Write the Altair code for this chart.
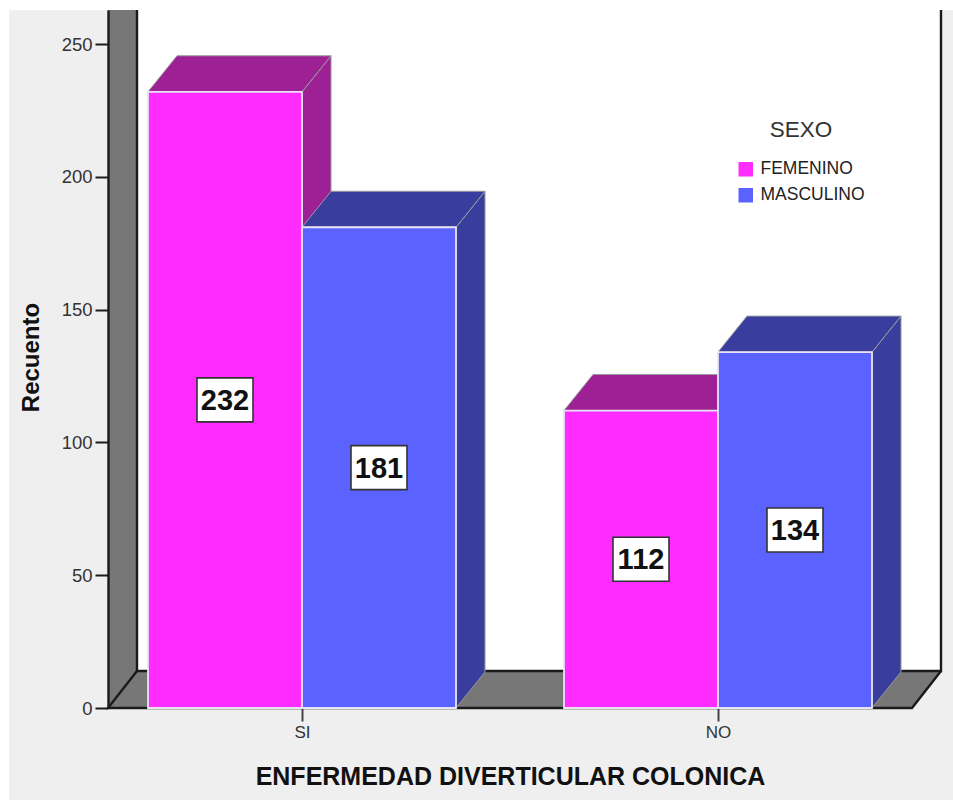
import altair as alt
import pandas as pd

# Counts per diagnosis and sex
categories = ["SI", "NO"]
series = ["FEMENINO", "MASCULINO"]
femenino = [232, 112]
masculino = [181, 134]
y_ticks = [0, 50, 100, 150, 200, 250]

front_colors = ["#ff2bff", "#5a62ff"]
shade_colors = ["#9e2095", "#393e9e"]
WALL = "#777777"
PAGE = "#efefef"
INK = "#1a1a1a"

# Plot geometry, in pixels of the view
W, H = 833, 698
PX_PER_COUNT = 2.656
Y_MAX = H / PX_PER_COUNT
BAR_W = 154
GROUP_CENTERS = [194, 610]
DEPTH_X = 29
DEPTH_Y = 36 / PX_PER_COUNT
WALL_Y = 37 / PX_PER_COUNT

x_scale = alt.Scale(domain=[0, W], nice=False, zero=False)
y_scale = alt.Scale(domain=[0, Y_MAX], nice=False, zero=False)
X = alt.X("x:Q", scale=x_scale)
Y = alt.Y("y:Q", scale=y_scale)
X2 = alt.X2("x2:Q")
Y2 = alt.Y2("y2:Q")


def area(rows, color, **kw):
    df = pd.DataFrame(rows, columns=["x", "y", "y2"])
    return alt.Chart(df).mark_area(color=color, interpolate="linear", **kw).encode(x=X, y=Y, y2=Y2)


def polyline(points):
    df = pd.DataFrame(points, columns=["x", "y"])
    df["i"] = range(len(df))
    return alt.Chart(df).mark_line(color=INK, strokeWidth=2.4, interpolate="linear").encode(
        x=X, y=Y, order="i:Q"
    )


# Back panel, side wall and floor of the box
panel = alt.Chart(pd.DataFrame([{"x": DEPTH_X, "x2": W, "y": WALL_Y, "y2": Y_MAX}])).mark_rect(
    color="white"
).encode(x=X, x2=X2, y=Y, y2=Y2)
wall = area([(0, 0, Y_MAX), (DEPTH_X, WALL_Y, Y_MAX)], WALL)
floor = area(
    [(0, 0, 0), (DEPTH_X, 0, WALL_Y), (W - DEPTH_X, 0, WALL_Y), (W, WALL_Y, WALL_Y)], WALL
)
frame_back = polyline([(DEPTH_X, Y_MAX), (DEPTH_X, WALL_Y), (W, WALL_Y), (W, Y_MAX)])
frame_front = polyline([(DEPTH_X, WALL_Y), (0, 0), (W - DEPTH_X, 0), (W, WALL_Y)])

# Axes are carried by an invisible layer and raised above the walls
axes = alt.Chart(pd.DataFrame({"x": GROUP_CENTERS, "y": [0, 0]})).mark_point(opacity=0).encode(
    x=alt.X(
        "x:Q",
        scale=x_scale,
        axis=alt.Axis(
            values=GROUP_CENTERS,
            labelExpr=f"datum.value == {GROUP_CENTERS[0]} ? '{categories[0]}' : '{categories[1]}'",
            title="ENFERMEDAD DIVERTICULAR COLONICA",
            titleFont="Liberation Sans",
            titleFontSize=25,
            titleFontWeight="bold",
            titleColor="#111111",
            titleX=402,
            titleY=68,
            titleAlign="center",
            titleBaseline="middle",
            labelFont="Liberation Sans",
            labelFontSize=17,
            labelColor="#333333",
            labelPadding=3,
            tickColor="#444444",
            tickSize=13,
            tickWidth=2,
            domain=False,
            grid=False,
        ),
    ),
    y=alt.Y(
        "y:Q",
        scale=y_scale,
        axis=alt.Axis(
            values=y_ticks,
            title="Recuento",
            titleFont="Liberation Sans",
            titleFontSize=24,
            titleFontWeight="bold",
            titleColor="#111111",
            titleX=-77,
            titleY=347,
            titleAlign="center",
            titleBaseline="middle",
            labelFont="Liberation Sans",
            labelFontSize=18.5,
            labelColor="#333333",
            labelPadding=3,
            tickColor=INK,
            tickSize=13,
            tickWidth=2,
            domainColor=INK,
            domainWidth=2.4,
            grid=False,
            zindex=1,
        ),
    ),
)

layers = [axes, panel, wall, floor, frame_back, frame_front]

values_by_series = [femenino, masculino]
color_scale = alt.Scale(domain=series, range=front_colors)

# Each series is drawn after the previous one so its faces overlap it
for s_idx, name in enumerate(series):
    rows, tops, sides = [], [], []
    for c_idx, center in enumerate(GROUP_CENTERS):
        v = values_by_series[s_idx][c_idx]
        x0 = center - BAR_W if s_idx == 0 else center
        x1 = x0 + BAR_W
        rows.append({"x": x0, "x2": x1, "y": 0, "y2": v, "sexo": name})
        sides.append(area(
            [(x1, 0, v), (x1 + DEPTH_X, DEPTH_Y, v + DEPTH_Y)],
            shade_colors[s_idx], stroke="#9a9a9a", strokeWidth=1,
        ))
        tops.append(area(
            [(x0, v, v), (x0 + DEPTH_X, v, v + DEPTH_Y), (x1, v, v + DEPTH_Y), (x1 + DEPTH_X, v + DEPTH_Y, v + DEPTH_Y)],
            shade_colors[s_idx], stroke="#9a9a9a", strokeWidth=1,
        ))
    front = alt.Chart(pd.DataFrame(rows)).mark_rect(stroke="#e9e4f4", strokeWidth=1.8).encode(
        x=X, x2=X2, y=Y, y2=Y2,
        color=alt.Color(
            "sexo:N",
            scale=color_scale,
            legend=alt.Legend(
                orient="none",
                legendX=629,
                legendY=109,
                title="SEXO",
                titleFont="Liberation Sans",
                titleFontSize=22.5,
                titleFontWeight="normal",
                titleColor="#333333",
                titleAnchor="middle",
                titlePadding=19,
                labelFont="Liberation Sans",
                labelFontSize=17.5,
                labelColor="#222222",
                labelOffset=6,
                symbolType="square",
                symbolSize=210,
                symbolStrokeWidth=0,
                rowPadding=7,
            ),
        ),
    )
    layers += sides + tops + [front]

# Value labels sit in white boxes halfway up each bar
label_rows = []
for s_idx in range(2):
    for c_idx, center in enumerate(GROUP_CENTERS):
        v = values_by_series[s_idx][c_idx]
        x_mid = center - BAR_W / 2 if s_idx == 0 else center + BAR_W / 2
        label_rows.append({"x": x_mid, "y": v / 2, "label": str(v)})
labels = pd.DataFrame(label_rows)
boxes = alt.Chart(labels).mark_rect(
    width=56, height=44, fill="white", stroke="#333333", strokeWidth=1.6
).encode(x=X, y=Y)
texts = alt.Chart(labels).mark_text(
    font="Liberation Sans", fontSize=29, fontWeight="bold", color="#111111", baseline="middle", dy=1
).encode(x=X, y=Y, text="label:N")
layers += [boxes, texts]

# White margin along the top and left of the page
top_strip = alt.Chart(pd.DataFrame({"a": [0]})).mark_rect(color="white").encode(
    x=alt.value(-108), x2=alt.value(845), y=alt.value(-10), y2=alt.value(0)
)
left_strip = alt.Chart(pd.DataFrame({"a": [0]})).mark_rect(color="white").encode(
    x=alt.value(-108), x2=alt.value(-99), y=alt.value(-10), y2=alt.value(790)
)
layers += [top_strip, left_strip]

chart = alt.layer(*layers).resolve_scale(color="shared").properties(
    width=W,
    height=H,
    padding={"left": 108, "top": 10, "right": 12, "bottom": 92},
    autosize=alt.AutoSizeParams(type="none"),
    background=PAGE,
).configure_view(stroke=None)

chart.save("out.html", embed_options={"renderer": "svg", "actions": False})
